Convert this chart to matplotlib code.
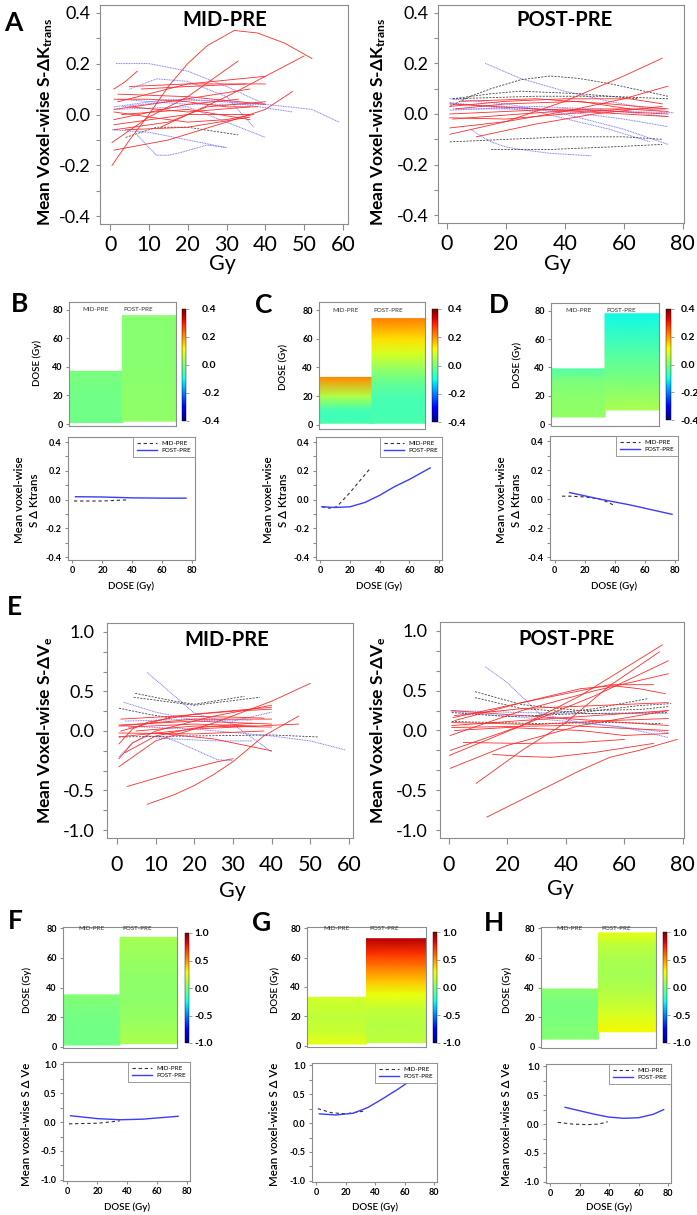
import matplotlib
matplotlib.use('Agg')
import matplotlib.pyplot as plt
import numpy as np
from matplotlib.ticker import MultipleLocator
from matplotlib.cm import ScalarMappable
from matplotlib.colors import Normalize

plt.rcParams['font.family'] = ['Lato', 'DejaVu Sans']
plt.rcParams['mathtext.default'] = 'regular'

# ---------------- panel A : S-dKtrans per patient, (dose Gy, value) ----------------
ktrans_mid_red = [
    [(0.5, -0.20), (5, -0.10), (10, 0.00), (15, 0.11), (20, 0.20), (25, 0.27),
     (32, 0.33), (38, 0.32), (45, 0.28), (52, 0.22)],
    [(1, 0.10), (4, 0.13), (7, 0.17)],
    [(1, -0.14), (15, -0.10), (30, -0.03), (40, 0.02), (47, 0.09)],
    [(0.5, -0.11), (10, -0.01), (20, 0.07), (33, 0.21)],
    [(13, -0.05), (30, 0.07), (50, 0.23)],
    [(2, 0.05), (20, 0.12), (40, 0.15)],
    [(5, 0.11), (20, 0.12), (40, 0.12)],
    [(1, 0.02), (15, 0.05), (36, 0.10)],
    [(1, -0.04), (20, 0.0), (36, 0.0)],
    [(1, -0.06), (15, -0.03), (25, 0.03), (40, 0.05)],
    [(2, 0.08), (20, 0.07), (40, 0.04)],
    [(1, 0.01), (10, -0.01), (20, -0.03), (30, -0.02), (37, 0.0)],
    [(3, 0.0), (20, 0.02), (36, -0.02)],
    [(1, -0.02), (20, 0.04), (33, 0.06)],
    [(5, 0.03), (20, 0.01), (36, 0.03)],
    [(8, 0.10), (20, 0.11), (35, 0.12)],
    [(4, -0.06), (20, -0.05), (36, -0.01)],
    [(1, 0.06), (10, 0.06), (20, 0.05), (30, 0.03), (38, 0.03)],
]
ktrans_mid_blue = [
    [(1.5, 0.20), (10, 0.20), (20, 0.17), (30, 0.11), (40, 0.04)],
    [(5, 0.10), (12, 0.14), (20, 0.13), (30, 0.07), (37, -0.05)],
    [(1, 0.03), (15, 0.06), (30, 0.05), (47, 0.01)],
    [(3, 0.03), (20, 0.06), (40, 0.04), (52, 0.02), (59, -0.03)],
    [(7, -0.08), (10, -0.13), (12, -0.16), (15, -0.16), (18, -0.15), (25, -0.12), (30, -0.13)],
    [(0.5, -0.06), (10, -0.07), (20, -0.10), (30, -0.13)],
    [(1, 0.02), (20, 0.03), (40, -0.09)],
    [(2, 0.06), (20, 0.04), (40, 0.04)],
]
ktrans_mid_black = [
    [(4, -0.09), (12, -0.05), (20, -0.05), (33, -0.08)],
]
ktrans_post_red = [
    [(1, -0.08), (20, -0.03), (40, 0.05), (60, 0.15), (73, 0.22)],
    [(1, -0.055), (20, -0.03), (40, 0.01), (60, 0.06), (75, 0.11)],
    [(10, -0.09), (30, -0.04), (50, 0.0), (73, 0.03)],
    [(1, -0.015), (20, -0.02), (40, 0.0), (60, 0.02), (75, 0.01)],
    [(1, 0.03), (20, 0.05), (40, 0.06), (62, 0.06), (73, 0.04)],
    [(1, 0.0), (20, 0.01), (40, 0.02), (75, 0.0)],
    [(3, 0.02), (20, 0.04), (45, 0.05), (62, 0.02)],
    [(2, -0.02), (25, 0.0), (50, 0.02), (74, 0.02)],
    [(5, 0.05), (30, 0.06), (55, 0.04), (75, 0.02)],
    [(1, 0.04), (30, 0.02), (60, 0.0), (75, -0.01)],
]
ktrans_post_blue = [
    [(13, 0.20), (25, 0.14), (40, 0.09), (55, 0.05), (73, 0.01)],
    [(8, -0.06), (12, -0.09), (15, -0.11), (20, -0.13), (25, -0.14), (35, -0.155), (49, -0.165)],
    [(1, 0.06), (20, 0.04), (40, 0.0), (60, -0.06), (75, -0.12)],
    [(1, 0.04), (20, 0.03), (40, 0.01), (60, -0.02), (75, -0.05)],
    [(2, 0.02), (30, 0.02), (60, 0.01), (77, 0.005)],
    [(1, 0.015), (30, 0.03), (50, 0.02), (75, -0.01)],
    [(1, 0.045), (30, 0.01), (55, -0.06), (69, -0.11)],
]
ktrans_post_black = [
    [(1, 0.03), (8, 0.07), (15, 0.10), (25, 0.135), (35, 0.15), (45, 0.14), (55, 0.12), (65, 0.095), (75, 0.07)],
    [(2, 0.06), (15, 0.08), (25, 0.09), (45, 0.08), (65, 0.06)],
    [(2, 0.06), (30, 0.07), (55, 0.07), (75, 0.06)],
    [(1, -0.11), (20, -0.10), (40, -0.09), (60, -0.09), (73, -0.10)],
    [(15, -0.14), (35, -0.14), (55, -0.13), (73, -0.12)],
]

# ---------------- panel E : S-dVe per patient ----------------
ve_mid_red = [
    [(7.8, -0.74), (15, -0.64), (20, -0.55), (25, -0.44), (30, -0.31), (34, -0.18), (38, -0.05), (47, 0.15)],
    [(2.6, -0.56), (15, -0.42), (26, -0.31), (30, -0.28)],
    [(0.5, -0.36), (10, -0.10), (25, 0.08), (40, 0.30), (50, 0.48)],
    [(0.5, -0.28), (4, -0.12), (10, 0.0), (25, 0.15), (40, 0.26)],
    [(0.5, -0.13), (4, 0.02), (8, 0.09), (20, 0.17), (40, 0.24)],
    [(0.5, 0.06), (20, 0.10), (40, 0.07)],
    [(0.5, -0.06), (20, 0.02), (47, 0.07)],
    [(0.5, 0.05), (20, 0.12), (40, 0.12)],
    [(1, 0.0), (15, 0.15), (30, 0.20), (40, 0.22)],
    [(2, -0.22), (10, -0.05), (20, 0.03), (35, 0.08)],
    [(5, 0.0), (20, 0.05), (40, 0.04)],
    [(1, 0.12), (15, 0.15), (30, 0.14), (38, 0.13)],
    [(10, -0.02), (25, -0.08), (40, -0.20)],
    [(3, 0.04), (20, 0.07), (36, 0.05)],
    [(0.5, -0.02), (20, -0.03), (38, 0.0)],
]
ve_mid_blue = [
    [(7.8, 0.59), (15, 0.35), (20, 0.18), (30, 0.07), (40, -0.21)],
    [(1.7, 0.29), (10, 0.19), (20, 0.11), (30, 0.10), (40, 0.19)],
    [(0.5, -0.26), (4, -0.12), (8, -0.05), (12, -0.06), (15, -0.10), (22, -0.22), (26, -0.29), (30, -0.30)],
    [(10, -0.07), (25, -0.10), (35, -0.10)],
    [(1, 0.05), (20, 0.02), (40, -0.05), (50, -0.10), (59, -0.19)],
    [(2, 0.10), (20, 0.12), (35, 0.11)],
]
ve_mid_black = [
    [(4.7, 0.38), (15, 0.30), (20, 0.27), (33, 0.35)],
    [(4.3, 0.34), (20, 0.26), (37, 0.34)],
    [(0.5, 0.23), (8, 0.17), (14, 0.13)],
    [(0.5, -0.06), (20, -0.05), (40, -0.04), (52, -0.06)],
]
ve_post_red = [
    [(13, -0.87), (30, -0.62), (45, -0.40), (55, -0.27), (65, -0.20), (78, -0.09)],
    [(9.4, -0.53), (25, -0.20), (40, 0.08), (55, 0.45), (72, 0.79)],
    [(0.2, -0.25), (25, 0.05), (45, 0.35), (73, 0.86)],
    [(0.5, -0.20), (25, 0.05), (50, 0.35), (75, 0.70)],
    [(0.5, -0.05), (25, 0.20), (50, 0.40), (75, 0.57)],
    [(2, 0.10), (25, 0.28), (45, 0.42), (56, 0.45), (65, 0.42), (74, 0.37)],
    [(1.5, 0.13), (25, 0.28), (55, 0.46), (70, 0.46)],
    [(0.5, -0.38), (20, -0.15), (45, 0.05), (75, 0.20)],
    [(5, -0.12), (25, -0.13), (45, -0.12), (60, -0.09)],
    [(15, -0.24), (25, -0.26), (35, -0.27), (50, -0.22), (70, -0.13)],
    [(1, 0.05), (25, 0.10), (50, 0.15), (75, 0.20)],
    [(1, 0.20), (25, 0.15), (50, 0.10), (75, 0.05)],
    [(2, 0.0), (20, 0.03), (45, 0.0), (60, -0.05), (75, -0.03)],
    [(1, 0.08), (30, 0.06), (55, 0.10), (75, 0.12)],
    [(2, 0.15), (25, 0.22), (50, 0.25), (75, 0.28)],
    [(1, 0.03), (40, 0.05), (75, 0.0)],
]
ve_post_blue = [
    [(12.5, 0.64), (20, 0.48), (31, 0.17), (45, 0.08), (60, 0.03), (75, -0.07)],
    [(0.5, 0.20), (25, 0.18), (50, 0.17), (75, 0.17)],
    [(1, 0.19), (30, 0.12), (55, 0.05), (75, -0.02)],
]
ve_post_black = [
    [(9, 0.39), (25, 0.26), (45, 0.20), (65, 0.21), (75, 0.24)],
    [(9, 0.33), (25, 0.22), (45, 0.18), (65, 0.25), (76, 0.27)],
    [(1, 0.09), (30, 0.07), (55, 0.08), (73, 0.07)],
    [(30, 0.15), (50, 0.22), (68, 0.32)],
    [(1, 0.18), (20, 0.14), (45, 0.17), (75, 0.18)],
]

# ---------------- panels B-D, F-H : group mean curves ----------------
b_mid = [(1, -0.01), (20, -0.01), (37, -0.002)]
b_post = [(2, 0.02), (20, 0.018), (40, 0.012), (60, 0.01), (76, 0.01)]
c_mid = [(1, -0.05), (6, -0.06), (11, -0.05), (20, 0.05), (33, 0.21)]
c_post = [(1, -0.05), (10, -0.055), (20, -0.05), (30, -0.02), (40, 0.03), (50, 0.09), (60, 0.14), (74, 0.22)]
d_mid = [(5, 0.02), (10, 0.02), (20, 0.015), (30, 0.0), (35, -0.02), (39, -0.04)]
d_post = [(10, 0.045), (30, 0.0), (50, -0.04), (78, -0.105)]
f_mid = [(1, -0.03), (20, -0.02), (35, 0.02)]
f_post = [(2, 0.11), (20, 0.06), (35, 0.04), (50, 0.05), (74, 0.10)]
g_mid = [(1, 0.25), (10, 0.18), (20, 0.16), (33, 0.21)]
g_post = [(2, 0.16), (13, 0.14), (25, 0.17), (35, 0.27), (45, 0.42), (55, 0.58), (62, 0.70), (73, 0.90)]
h_mid = [(5, 0.03), (15, 0.0), (25, -0.01), (33, 0.0), (39, 0.04)]
h_post = [(10, 0.29), (20, 0.23), (30, 0.17), (40, 0.12), (50, 0.10), (60, 0.11), (70, 0.17), (77, 0.25)]

RED = '#ff2b2b'
BLUE = '#7a7aff'
DARK = '#444444'
GRAY = '#8c8c8c'

W, H = 697, 1215
fig = plt.figure(figsize=(W / 100, H / 100), dpi=100)


def box(x0, y0, x1, y1):
    # pixel box, origin top-left -> figure rect
    return [x0 / W, 1 - y1 / H, (x1 - x0) / W, (y1 - y0) / H]


def put(x, y, s, **kw):
    fig.text(x / W, 1 - y / H, s, ha='center', va='center', **kw)


def frame(ax):
    for s in ax.spines.values():
        s.set_color(GRAY)
        s.set_linewidth(0.8)
    ax.tick_params(which='both', direction='out', color=GRAY, width=0.8)


def draw_curves(ax, curves, **kw):
    for c in curves:
        d, v = zip(*c)
        ax.plot(d, v, **kw)


def big_panel(rect, red, blue, black, title, title_xy, xlim, xticks,
              ylim, yticks, ylabels, yminor, xpad, ypad):
    ax = fig.add_axes(box(*rect))
    draw_curves(ax, blue, color=BLUE, lw=0.7, ls=(0, (1, 0.7)))
    draw_curves(ax, black, color=DARK, lw=0.6, ls=(0, (2.5, 1.5)))
    draw_curves(ax, red, color=RED, lw=0.6)
    ax.set_xlim(*xlim)
    ax.set_ylim(*ylim)
    ax.set_xticks(xticks)
    ax.set_yticks(yticks)
    ax.set_yticklabels(ylabels)
    ax.yaxis.set_minor_locator(MultipleLocator(yminor))
    frame(ax)
    ax.tick_params(axis='x', labelsize=15.5, pad=xpad, length=4)
    ax.tick_params(axis='y', which='both', labelsize=13, pad=ypad, length=3)
    put(title_xy[0], title_xy[1], title, fontsize=14.5, fontweight='bold')
    return ax


# ---- A ----
ktr_yt = [-0.4, -0.2, 0.0, 0.2, 0.4]
ktr_yl = ['-0.4', '-0.2', '0.0', '0.2', '0.4']
big_panel((100, 5, 348, 224), ktrans_mid_red, ktrans_mid_blue, ktrans_mid_black,
          'MID-PRE', (225, 20), (-2.6, 61.3), [0, 10, 20, 30, 40, 50, 60],
          (-0.43, 0.43), ktr_yt, ktr_yl, 0.1, 4, 4)
big_panel((438, 5, 684, 223), ktrans_post_red, ktrans_post_blue, ktrans_post_black,
          'POST-PRE', (564, 20), (-3, 80.4), [0, 20, 40, 60, 80],
          (-0.43, 0.43), ktr_yt, ktr_yl, 0.1, 4, 4)
klab = 'Mean Voxel-wise S-ΔK$_{trans}$'
put(45, 122, klab, rotation=90, fontsize=12.5, fontweight='bold')
put(378, 122, klab, rotation=90, fontsize=12.5, fontweight='bold')
put(222, 264, 'Gy', fontsize=15.5)
put(557, 264, 'Gy', fontsize=15.5)

# ---- E ----
ve_yt = [-1.0, -0.6, 0.0, 0.4, 1.0]
ve_yl = ['-1.0', '-0.5', '0.0', '0.5', '1.0']
big_panel((107, 623, 353, 838), ve_mid_red, ve_mid_blue, ve_mid_black,
          'MID-PRE', (227, 640), (-2.6, 61.1), [0, 10, 20, 30, 40, 50, 60],
          (-1.08, 1.09), ve_yt, ve_yl, 0.2, 8, 6)
big_panel((440, 622, 684, 838), ve_post_red, ve_post_blue, ve_post_black,
          'POST-PRE', (566, 639), (-3, 80.4), [0, 20, 40, 60, 80],
          (-1.08, 1.09), ve_yt, ve_yl, 0.2, 8, 6)
vlab = 'Mean Voxel-wise S-ΔV$_{e}$'
put(45, 730, vlab, rotation=90, fontsize=12.5, fontweight='bold')
put(378, 730, vlab, rotation=90, fontsize=12.5, fontweight='bold')
put(232, 891, 'Gy', fontsize=15.5)
put(560, 889, 'Gy', fontsize=15.5)


def small_panel(mid, post, heat, cbar, cpad, line, vlim, heat_ylim, line_ylim,
                ylab, ylab_x, dose_x, row_y):
    # dose map: each column coloured by the mean curve along dose
    ax = fig.add_axes(box(*heat))
    for pts, (x0, x1) in ((mid, (0, 1)), (post, (1, 2))):
        d, v = np.array(pts).T
        ax.pcolormesh([x0, x1], d, np.column_stack([v, v]), shading='gouraud',
                      cmap='jet', vmin=-vlim, vmax=vlim)
    ax.set_xlim(0, 2)
    ax.set_ylim(*heat_ylim)
    ax.set_xticks([])
    ax.set_yticks([0, 20, 40, 60, 80])
    frame(ax)
    ax.tick_params(axis='y', labelsize=6.5, length=2.5, pad=2)
    plt.setp(ax.get_yticklabels(), fontweight='bold')
    ax.text(0.5, 80, 'MID-PRE', ha='center', va='center', fontsize=4.5, color='#333333')
    ax.text(1.3, 80, 'POST-PRE', ha='center', va='center', fontsize=4.5, color='#333333')
    put(dose_x, row_y[0], 'DOSE (Gy)', rotation=90, fontsize=7, fontweight='semibold')

    cax = fig.add_axes(box(*cbar))
    ticks = [-vlim, -vlim / 2, 0, vlim / 2, vlim]
    cb = fig.colorbar(ScalarMappable(norm=Normalize(-vlim, vlim), cmap='jet'),
                      cax=cax, ticks=ticks)
    cb.set_ticklabels([f'{t:.1f}' for t in ticks])
    cb.outline.set_linewidth(0.3)
    cb.ax.tick_params(labelsize=7.5, length=2, width=0.6, color=GRAY, pad=cpad)
    plt.setp(cb.ax.get_yticklabels(), fontweight='bold')

    lx = fig.add_axes(box(*line))
    d, v = zip(*mid)
    lx.plot(d, v, color='#333333', lw=0.8, ls=(0, (3, 2.5)), label='MID-PRE')
    d, v = zip(*post)
    lx.plot(d, v, color='#3c3cff', lw=1.0, label='POST-PRE')
    lx.set_xlim(-3, 82)
    lx.set_ylim(*line_ylim)
    lx.set_xticks([0, 20, 40, 60, 80])
    lx.set_yticks(ticks)
    lx.set_yticklabels([f'{t:.1f}' for t in ticks])
    lx.yaxis.set_minor_locator(MultipleLocator(vlim / 4))
    frame(lx)
    lx.tick_params(which='both', labelsize=6.5, length=2.5, pad=2)
    plt.setp(lx.get_yticklabels() + lx.get_xticklabels(), fontweight='bold')
    leg = lx.legend(loc='upper right', fontsize=4.5, borderaxespad=0, fancybox=False,
                    edgecolor=GRAY, framealpha=1, handlelength=3.2, borderpad=0.6,
                    labelspacing=0.3)
    leg.get_frame().set_linewidth(0.6)
    put(ylab_x, row_y[1], ylab, rotation=90, fontsize=8.3, fontweight='semibold',
        linespacing=1.4)
    put((line[0] + line[2]) / 2, row_y[2], 'DOSE (Gy)', fontsize=7, fontweight='semibold')


ktr_small = 'Mean voxel-wise\nS Δ Ktrans'
ve_small = 'Mean voxel-wise S Δ Ve'
# B, C, D
small_panel(b_mid, b_post, (69, 302, 176, 426), (182, 309, 186, 421), 9,
            (68, 437, 195, 560), 0.4, (-1.4, 85.6), (-0.42, 0.435),
            ktr_small, 27, 37, (363, 500, 586))
small_panel(c_mid, c_post, (319, 302, 425, 429), (432, 309, 438, 422), 5,
            (316, 437, 442, 560), 0.4, (-3, 85.6), (-0.42, 0.435),
            ktr_small, 276, 283, (367, 500, 586))
small_panel(d_mid, d_post, (551, 303, 659, 426), (666, 309, 671, 420), 5,
            (550, 436, 678, 560), 0.4, (-1.4, 85.6), (-0.42, 0.435),
            ktr_small, 509, 517, (365, 500, 586))
# F, G, H
small_panel(f_mid, f_post, (63, 927, 177, 1048), (185, 933, 189, 1043), 2,
            (63, 1062, 190, 1181), 1.0, (-1, 81), (-1.02, 1.04),
            ve_small, 27, 27, (990, 1124, 1207))
small_panel(g_mid, g_post, (307, 927, 426, 1047), (433, 932, 437, 1043), 2,
            (312, 1063, 437, 1182), 1.0, (-1, 81), (-1.02, 1.04),
            ve_small, 274, 275, (990, 1124, 1207))
small_panel(h_mid, h_post, (541, 927, 656, 1048), (663, 932, 667, 1043), 2,
            (546, 1064, 671, 1183), 1.0, (-1, 81), (-1.02, 1.04),
            ve_small, 506, 507, (990, 1124, 1207))

# panel letters
for letter, x, y in [('A', 13, 23), ('B', 20, 304), ('C', 264, 305), ('D', 499, 305),
                     ('E', 14, 607), ('F', 15, 921), ('G', 262, 923), ('H', 494, 923)]:
    put(x, y, letter, fontsize=19, fontweight='bold')

fig.savefig('out.png', dpi=100)
